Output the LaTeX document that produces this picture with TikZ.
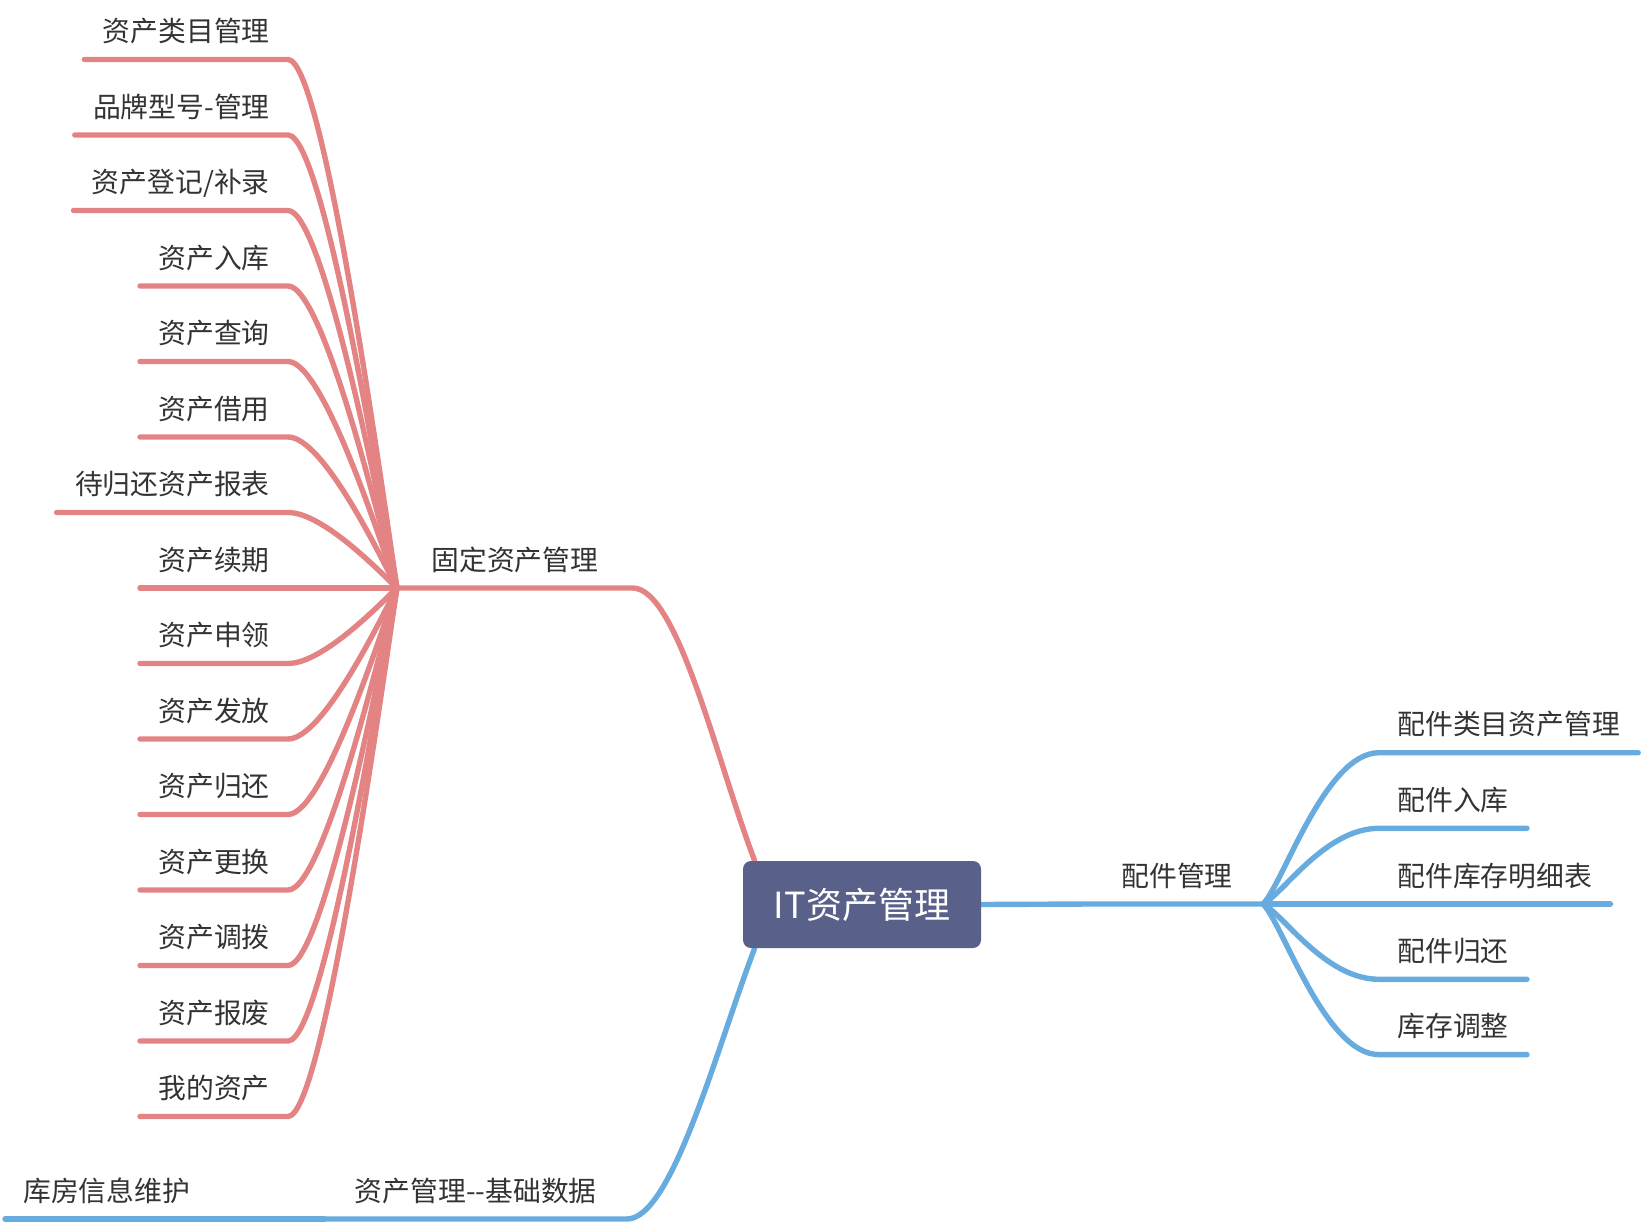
\documentclass[tikz,border=0pt]{standalone}
\usepackage{fontspec}
\newfontfamily\cjkfont{Noto Sans CJK SC}
\usetikzlibrary{backgrounds}
\definecolor{mapred}{RGB}{228,131,131}
\definecolor{mapblue}{RGB}{104,172,223}
\definecolor{mapnavy}{RGB}{89,97,139}
\definecolor{mapink}{RGB}{51,51,51}
\tikzset{
  rootbox/.style={fill=mapnavy, rounded corners=4pt, minimum width=119pt,
    minimum height=43.5pt, inner sep=0pt, text=white,
    font=\cjkfont\fontsize{18}{20}\selectfont},
  leafbox/.style={text=mapink, font=\cjkfont\fontsize{13.9}{16}\selectfont,
    text depth=0pt, inner xsep=9pt, inner ysep=8.7pt},
  branchbox/.style={leafbox, inner xsep=15pt},
  redflow/.style={draw=mapred, line width=2.7pt, line cap=round, line join=round},
  blueflow/.style={draw=mapblue, line width=2.7pt, line cap=round, line join=round}
}

\begin{document}
\begin{tikzpicture}[x=0.5pt, y=-0.5pt]
  \useasboundingbox (0,0) rectangle (1642,1224);
  \node[rootbox] (itroot) at (862,904.5) {IT资产管理};

  % fixed assets branch
  \node[branchbox, inner xsep=17pt, anchor=south west] (fixed) at (397,588) {固定资产管理};
  \node[leafbox, anchor=south east] (category) at (288,59.5) {资产类目管理};
  \node[leafbox, anchor=south east] (brand) at (288,135) {品牌型号-管理};
  \node[leafbox, anchor=south east] (register) at (288,210.5) {资产登记/补录};
  \node[leafbox, anchor=south east] (instock) at (288,286) {资产入库};
  \node[leafbox, anchor=south east] (query) at (288,361.5) {资产查询};
  \node[leafbox, anchor=south east] (borrow) at (288,437) {资产借用};
  \node[leafbox, anchor=south east] (pending) at (288,512.5) {待归还资产报表};
  \node[leafbox, anchor=south east] (renew) at (288,588) {资产续期};
  \node[leafbox, anchor=south east] (apply) at (288,663.5) {资产申领};
  \node[leafbox, anchor=south east] (issue) at (288,739) {资产发放};
  \node[leafbox, anchor=south east] (giveback) at (288,814.5) {资产归还};
  \node[leafbox, anchor=south east] (swap) at (288,890) {资产更换};
  \node[leafbox, anchor=south east] (transfer) at (288,965.5) {资产调拨};
  \node[leafbox, anchor=south east] (scrap) at (288,1041) {资产报废};
  \node[leafbox, anchor=south east] (mine) at (288,1116.5) {我的资产};

  % parts branch
  \node[branchbox, anchor=south east] (parts) at (1263,904) {配件管理};
  \node[leafbox, anchor=south west] (partcat) at (1379,752.7) {配件类目资产管理};
  \node[leafbox, anchor=south west] (partin) at (1379,828.3) {配件入库};
  \node[leafbox, anchor=south west] (partlist) at (1379,904) {配件库存明细表};
  \node[leafbox, anchor=south west] (partback) at (1379,979.3) {配件归还};
  \node[leafbox, anchor=south west] (stockfix) at (1379,1054.6) {库存调整};

  % base data branch
  \node[branchbox, anchor=south east] (basedata) at (627,1219) {资产管理--基础数据};
  \node[leafbox, anchor=south west] (storeroom) at (5,1219) {库房信息维护};

  \begin{scope}[on background layer]
    \draw[redflow] (fixed.south west) -- (fixed.south east)
      .. controls +(45,0) and +(-38,-100) .. ([xshift=6pt]itroot.north west);
    \draw[redflow] (category.south west) -- (category.south east) .. controls +(36,0) and +(-14,-90) .. (fixed.south west);
    \draw[redflow] (brand.south west) -- (brand.south east) .. controls +(36,0) and +(-14,-77) .. (fixed.south west);
    \draw[redflow] (register.south west) -- (register.south east) .. controls +(36,0) and +(-14,-64) .. (fixed.south west);
    \draw[redflow] (instock.south west) -- (instock.south east) .. controls +(36,0) and +(-14,-51) .. (fixed.south west);
    \draw[redflow] (query.south west) -- (query.south east) .. controls +(36,0) and +(-14,-38.5) .. (fixed.south west);
    \draw[redflow] (borrow.south west) -- (borrow.south east) .. controls +(36,0) and +(-14,-26) .. (fixed.south west);
    \draw[redflow] (pending.south west) -- (pending.south east) .. controls +(36,0) and +(-14,-13) .. (fixed.south west);
    \draw[redflow] (renew.south west) -- (fixed.south west);
    \draw[redflow] (apply.south west) -- (apply.south east) .. controls +(36,0) and +(-14,13) .. (fixed.south west);
    \draw[redflow] (issue.south west) -- (issue.south east) .. controls +(36,0) and +(-14,26) .. (fixed.south west);
    \draw[redflow] (giveback.south west) -- (giveback.south east) .. controls +(36,0) and +(-14,38.5) .. (fixed.south west);
    \draw[redflow] (swap.south west) -- (swap.south east) .. controls +(36,0) and +(-14,51) .. (fixed.south west);
    \draw[redflow] (transfer.south west) -- (transfer.south east) .. controls +(36,0) and +(-14,64) .. (fixed.south west);
    \draw[redflow] (scrap.south west) -- (scrap.south east) .. controls +(36,0) and +(-14,77) .. (fixed.south west);
    \draw[redflow] (mine.south west) -- (mine.south east) .. controls +(36,0) and +(-14,90) .. (fixed.south west);

    \draw[blueflow] (itroot.east) -- (parts.south west) -- (parts.south east);
    \draw[blueflow] (parts.south east) .. controls +(20,-20) and +(-54,0) .. (partcat.south west) -- (partcat.south east);
    \draw[blueflow] (parts.south east) .. controls +(20,-10) and +(-54,0) .. (partin.south west) -- (partin.south east);
    \draw[blueflow] (parts.south east) -- (partlist.south west) -- (partlist.south east);
    \draw[blueflow] (parts.south east) .. controls +(20,10) and +(-54,0) .. (partback.south west) -- (partback.south east);
    \draw[blueflow] (parts.south east) .. controls +(20,20) and +(-54,0) .. (stockfix.south west) -- (stockfix.south east);

    \draw[blueflow] (basedata.south west) -- (basedata.south east)
      .. controls +(45,0) and +(-38,100) .. ([xshift=6pt]itroot.south west);
    \draw[blueflow] (storeroom.south west) -- (basedata.south west);
  \end{scope}
\end{tikzpicture}
\end{document}
